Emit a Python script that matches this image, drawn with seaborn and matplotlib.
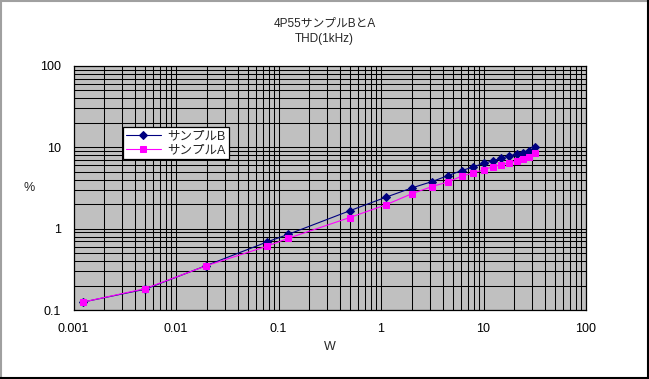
import matplotlib
matplotlib.use('Agg')
import matplotlib.pyplot as plt
import matplotlib.ticker as mticker
from matplotlib.lines import Line2D
import seaborn as sns
import numpy as np

# --- DATA ---
watts = [0.00123, 0.00498, 0.0195, 0.078, 0.124, 0.495, 1.11, 2.0, 3.14, 4.5,
         6.1, 7.96, 10.1, 12.4, 14.9, 17.9, 21.2, 24.2, 27.9, 31.7]
thd_b = [0.125, 0.18, 0.35, 0.69, 0.85, 1.66, 2.43, 3.17, 3.79, 4.49,
         5.17, 5.74, 6.37, 6.86, 7.35, 7.91, 8.22, 8.61, 8.96, 10.0]
thd_a = [0.125, 0.183, 0.348, 0.612, 0.76, 1.37, 1.96, 2.69, 3.29, 3.75,
         4.41, 4.84, 5.32, 5.79, 6.13, 6.48, 6.86, 7.26, 7.69, 8.61]
x_ticks = [0.001, 0.01, 0.1, 1, 10, 100]
y_ticks = [0.1, 1, 10, 100]

sns.set_style('white')
plt.rcParams['font.family'] = ['Liberation Sans', 'Noto Sans CJK JP', 'DejaVu Sans']

fig = plt.figure(figsize=(6.49, 3.79), dpi=100)
ax = fig.add_axes([0.1133, 0.182, 0.7897, 0.644])
ax.set_facecolor('#C0C0C0')

sns.lineplot(x=watts, y=thd_b, ax=ax, sort=False, color='#000080', lw=0.8,
             marker='D', markersize=4.3, markeredgecolor='#000080', label='サンプルB')
sns.lineplot(x=watts, y=thd_a, ax=ax, sort=False, color='#FF00FF', lw=0.8,
             marker='s', markersize=4.5, markeredgecolor='#FF00FF', label='サンプルA')

ax.set_xscale('log')
ax.set_yscale('log')
ax.set_xlim(0.001, 100)
ax.set_ylim(0.1, 100)
ax.xaxis.set_major_locator(mticker.FixedLocator(x_ticks))
ax.yaxis.set_major_locator(mticker.FixedLocator(y_ticks))
ax.xaxis.set_minor_locator(mticker.LogLocator(base=10, subs=np.arange(2, 10)))
ax.yaxis.set_minor_locator(mticker.LogLocator(base=10, subs=np.arange(2, 10)))
fmt = mticker.FuncFormatter(lambda v, p: '{:g}'.format(v))
ax.xaxis.set_major_formatter(fmt)
ax.yaxis.set_major_formatter(fmt)
ax.xaxis.set_minor_formatter(mticker.NullFormatter())
ax.yaxis.set_minor_formatter(mticker.NullFormatter())
ax.grid(True, which='both', color='black', lw=0.75)
ax.set_axisbelow(True)
ax.tick_params(which='both', length=0, labelsize=9, colors='black')
ax.tick_params(axis='x', pad=9)
ax.tick_params(axis='y', pad=9)
for s in ax.spines.values():
    s.set_color('black')
    s.set_linewidth(0.9)

ax.set_xlabel('W', fontsize=9, labelpad=5)
ax.set_ylabel('%', fontsize=9, rotation=0, labelpad=8, va='center')

fig.text(0.5, 0.937, '4P55サンプルBとA', ha='center', va='center', fontsize=8.5)
fig.text(0.5, 0.897, 'THD(1kHz)', ha='center', va='center', fontsize=8.5)

leg = ax.legend(loc='upper left', bbox_to_anchor=(0.096, 0.75), fontsize=9,
                frameon=True, fancybox=False, borderpad=0.25, handlelength=2.8,
                handletextpad=0.5, labelspacing=0.15, borderaxespad=0)
leg.get_frame().set_edgecolor('black')
leg.get_frame().set_facecolor('white')
leg.get_frame().set_alpha(1)
leg.get_frame().set_linewidth(0.9)

# outer frame
fig.add_artist(Line2D([0.001, 0.001], [0, 1], transform=fig.transFigure, color='#A0A0A0', lw=1.5))
fig.add_artist(Line2D([0, 1], [0.998, 0.998], transform=fig.transFigure, color='#A0A0A0', lw=1.5))
fig.add_artist(Line2D([0.998, 0.998], [0, 1], transform=fig.transFigure, color='black', lw=1.5))
fig.add_artist(Line2D([0, 1], [0.003, 0.003], transform=fig.transFigure, color='black', lw=1.5))

fig.savefig('out.png', dpi=100)
